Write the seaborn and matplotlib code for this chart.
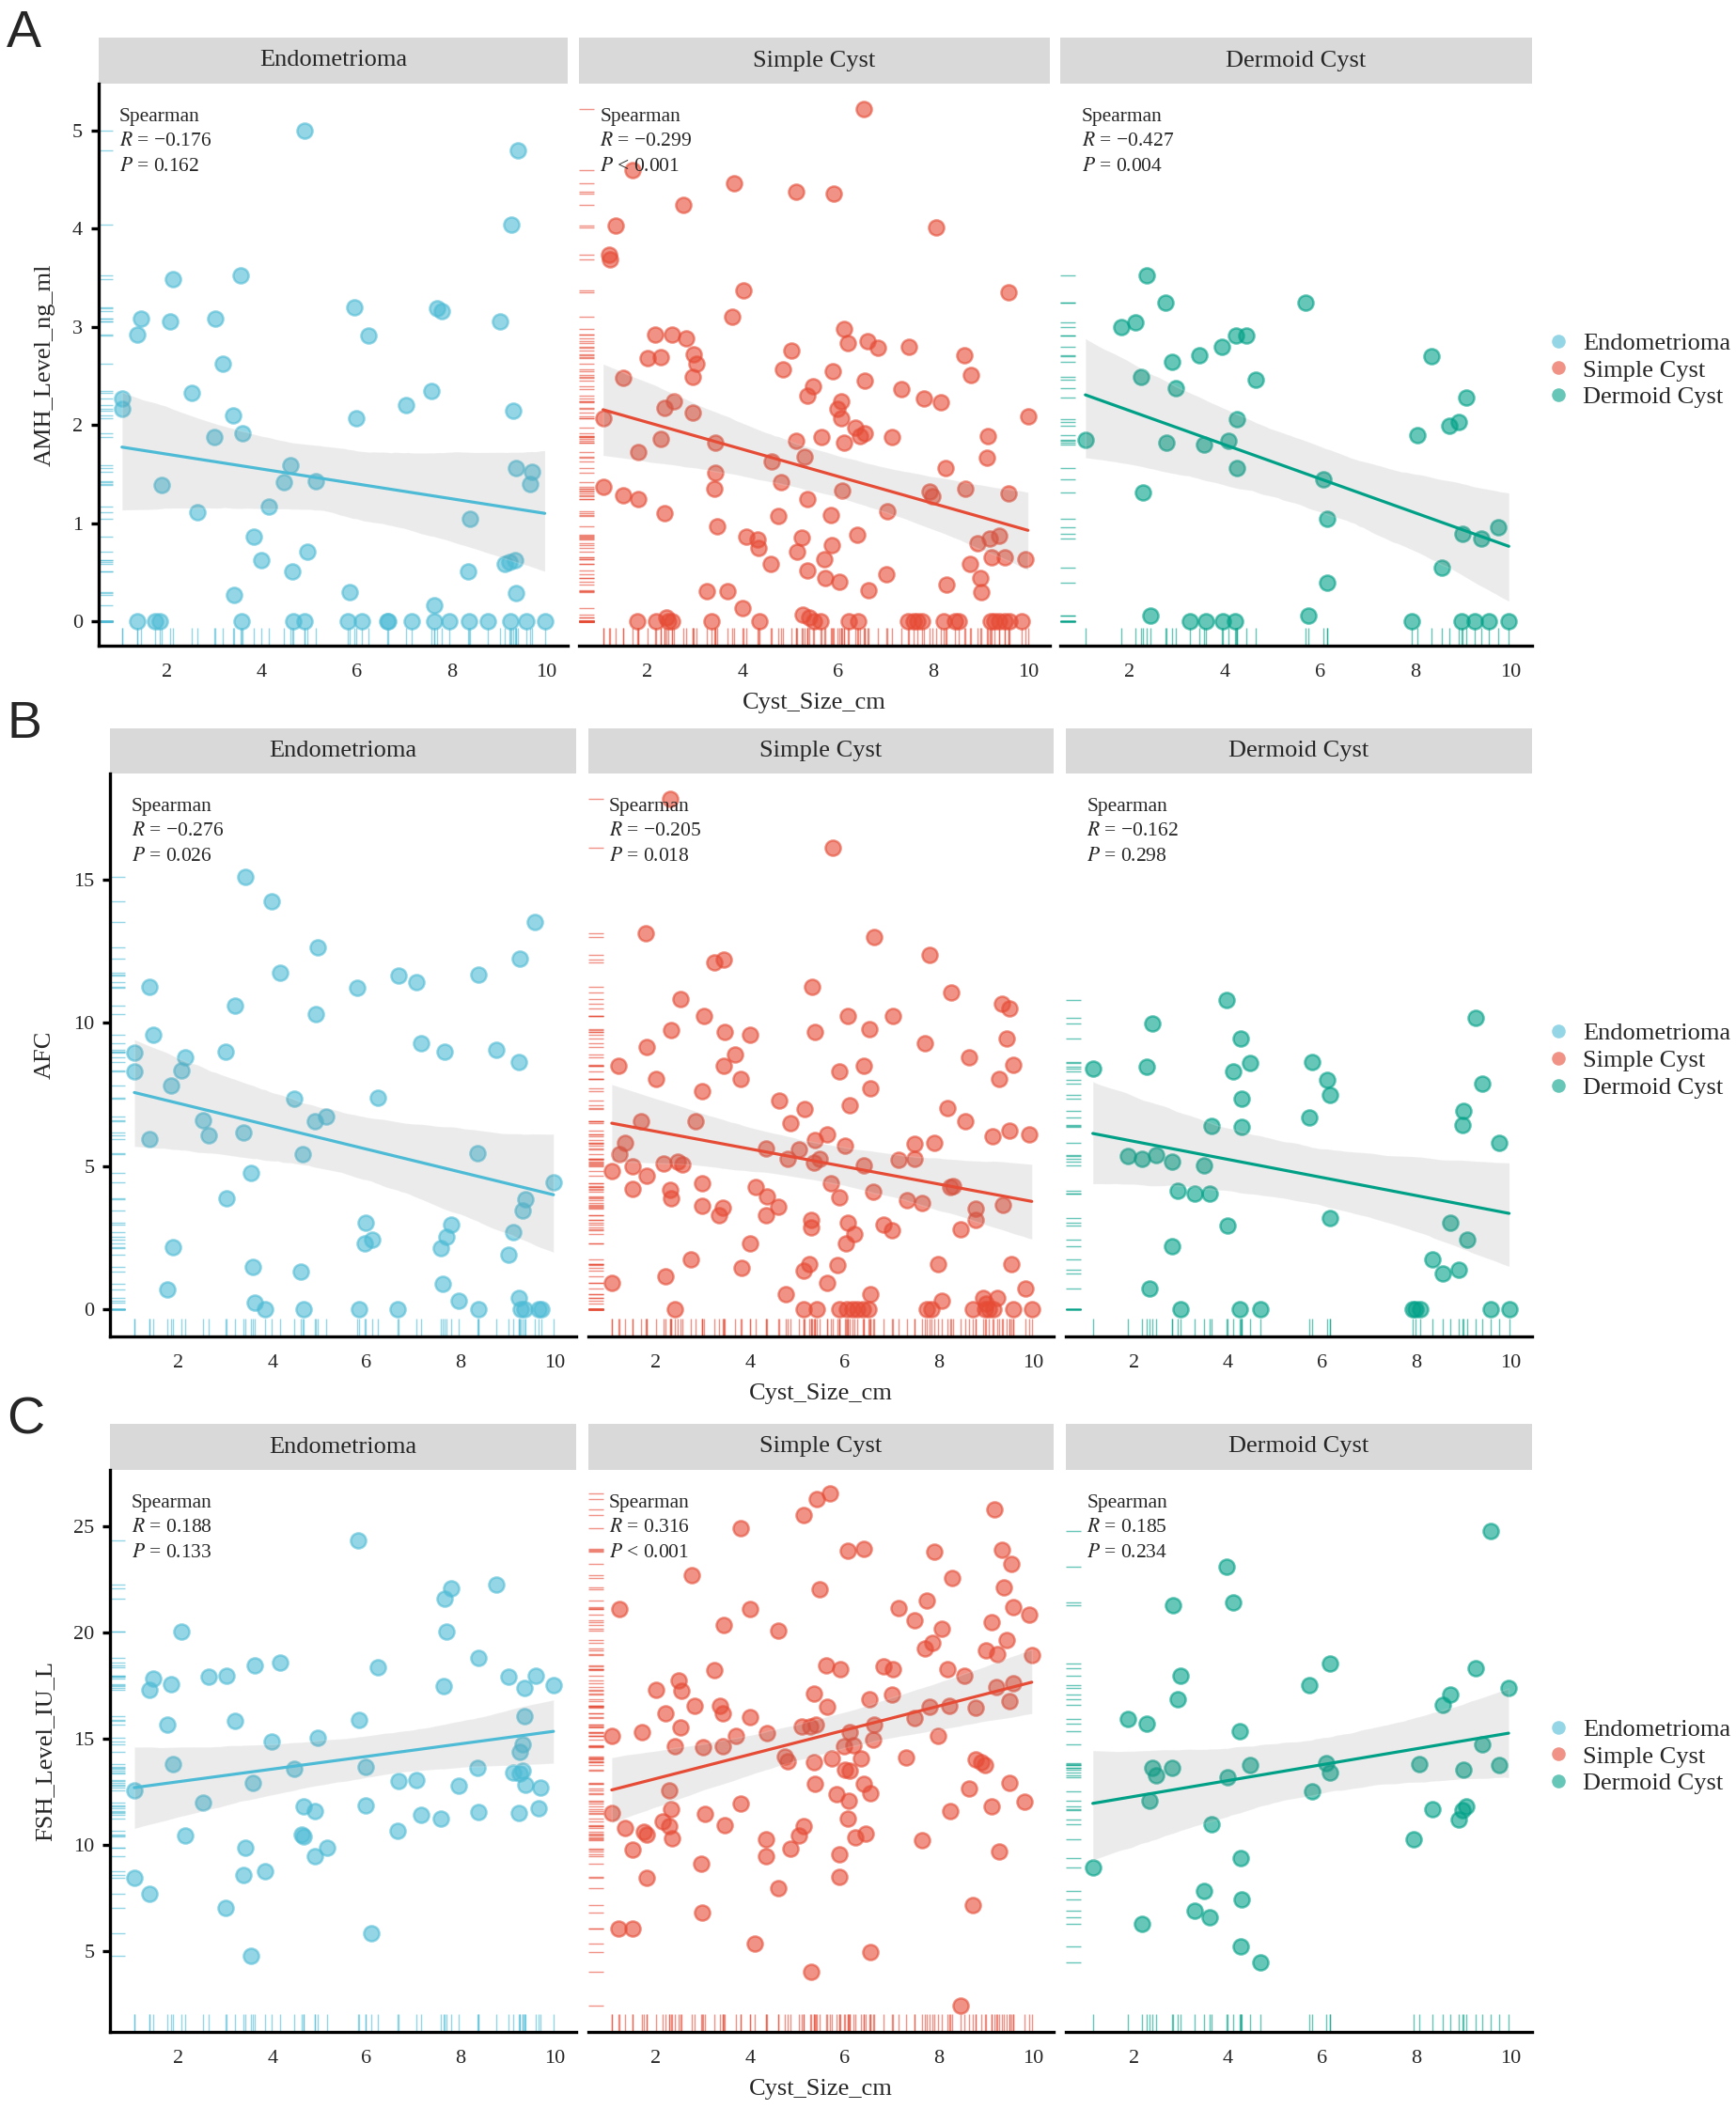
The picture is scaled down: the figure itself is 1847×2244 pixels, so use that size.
import matplotlib
matplotlib.use("Agg")
import matplotlib.pyplot as plt
from matplotlib.lines import Line2D
import pandas as pd
import seaborn as sns

sns.set_style("white")
plt.rcParams["font.family"] = ["Liberation Serif", "DejaVu Serif"]
plt.rcParams["mathtext.fontset"] = "stix"

GROUPS = ["Endometrioma", "Simple Cyst", "Dermoid Cyst"]
COLORS = ["#4DBBD5", "#E64B35", "#00A087"]
MEASURES = ["AMH_Level_ng_ml", "AFC", "FSH_Level_IU_L"]
PANEL_TAGS = ["A", "B", "C"]

# Spearman results printed in each facet (R, P text)
STATS = {
    "AMH_Level_ng_ml": [("\u22120.176", "= 0.162"), ("\u22120.299", "< 0.001"), ("\u22120.427", "= 0.004")],
    "AFC": [("\u22120.276", "= 0.026"), ("\u22120.205", "= 0.018"), ("\u22120.162", "= 0.298")],
    "FSH_Level_IU_L": [("0.188", "= 0.133"), ("0.316", "< 0.001"), ("0.185", "= 0.234")],
}

# ---- AMH ----
AMH_ENDO_X = [4.91, 9.40, 9.26, 2.13, 3.55, 1.47, 1.39, 2.07, 3.02, 5.96,
              6.24, 7.69, 7.80, 9.02, 3.19, 2.52, 1.06, 1.06, 7.58, 7.05,
              3.39, 5.99, 9.29, 3.00, 3.60, 1.89, 4.61, 4.46, 5.14, 9.36,
              9.70, 9.65, 2.64, 4.16, 8.38, 3.83, 4.96, 3.99, 4.64, 8.35,
              9.12, 9.21, 9.33, 3.42, 5.85, 9.36, 7.64,
              1.39, 1.75, 1.86, 3.58, 4.66, 4.91, 5.82, 6.11, 6.65, 6.67,
              7.16, 7.63, 7.96, 8.37, 8.76, 9.24, 9.58, 9.96]
AMH_ENDO_Y = [5.00, 4.80, 4.04, 3.49, 3.53, 3.08, 2.92, 3.06, 3.08, 3.20,
              2.91, 3.19, 3.16, 3.06, 2.62, 2.33, 2.27, 2.16, 2.35, 2.20,
              2.10, 2.07, 2.15, 1.88, 1.92, 1.39, 1.59, 1.42, 1.43, 1.56,
              1.52, 1.40, 1.11, 1.17, 1.04, 0.86, 0.71, 0.62, 0.51, 0.51,
              0.58, 0.60, 0.62, 0.27, 0.30, 0.29, 0.16,
              0, 0, 0, 0, 0, 0, 0, 0, 0, 0,
              0, 0, 0, 0, 0, 0, 0, 0]

AMH_SIMPLE_X = [6.54, 1.69, 3.82, 5.12, 5.92, 2.75, 1.34, 8.06, 1.19, 1.22,
                4.01, 9.59, 3.78, 2.17, 2.52, 2.81, 6.12, 6.20, 6.62, 6.84,
                7.49, 2.00, 2.29, 2.98, 3.04, 2.96, 5.03, 8.66, 4.85, 5.90,
                8.79, 1.49, 6.57, 5.48, 5.36, 7.33, 2.56, 2.35, 7.81, 8.16,
                6.06, 6.00, 6.07, 2.96, 9.99, 1.08, 6.36, 6.47, 6.56, 7.14,
                5.65, 6.13, 5.12, 9.15, 2.29, 3.42, 1.81, 5.29, 4.60, 9.13,
                8.25, 3.42, 4.80, 1.07, 3.41, 6.09, 7.92, 7.98, 8.67, 9.59,
                1.49, 1.80, 5.35, 2.35, 4.75, 5.85, 7.03, 3.46, 4.07, 4.32,
                4.34, 5.25, 6.41, 8.94, 9.19, 9.38, 5.14, 5.88, 4.59, 5.71,
                9.22, 9.50, 9.93, 5.36, 8.78, 7.02, 5.73, 6.03, 6.64, 8.28,
                8.99, 9.01, 3.25, 3.68, 3.99, 5.27, 5.40, 2.39,
                1.78, 2.19, 2.43, 2.51, 3.34, 4.36, 5.49, 5.64, 6.23, 6.42,
                7.47, 7.58, 7.66, 7.76, 8.23, 8.46, 8.54, 9.20, 9.28, 9.38,
                9.51, 9.60, 9.85]
AMH_SIMPLE_Y = [5.22, 4.60, 4.46, 4.38, 4.36, 4.24, 4.03, 4.01, 3.74, 3.69,
                3.37, 3.35, 3.10, 2.92, 2.92, 2.88, 2.98, 2.84, 2.85, 2.79,
                2.80, 2.68, 2.69, 2.72, 2.62, 2.49, 2.76, 2.71, 2.57, 2.55,
                2.51, 2.48, 2.45, 2.39, 2.30, 2.37, 2.24, 2.17, 2.27, 2.23,
                2.24, 2.16, 2.07, 2.13, 2.09, 2.07, 1.97, 1.89, 1.92, 1.88,
                1.88, 1.82, 1.84, 1.89, 1.86, 1.82, 1.72, 1.68, 1.63, 1.67,
                1.56, 1.51, 1.42, 1.37, 1.35, 1.33, 1.32, 1.27, 1.35, 1.30,
                1.28, 1.24, 1.24, 1.10, 1.07, 1.08, 1.12, 0.97, 0.86, 0.83,
                0.75, 0.85, 0.88, 0.79, 0.84, 0.87, 0.71, 0.78, 0.58, 0.63,
                0.65, 0.65, 0.63, 0.52, 0.58, 0.48, 0.44, 0.40, 0.32, 0.37,
                0.44, 0.30, 0.31, 0.31, 0.13, 0.07, 0.04, 0.04,
                0, 0, 0, 0, 0, 0, 0, 0, 0, 0,
                0, 0, 0, 0, 0, 0, 0, 0, 0, 0,
                0, 0, 0]

AMH_DERMOID_X = [2.37, 2.77, 5.70, 1.83, 2.14, 4.24, 4.45, 3.94, 3.48, 8.34,
                 2.90, 2.24, 4.65, 2.97, 9.08, 4.27, 8.91, 8.73, 8.06, 1.08,
                 2.79, 3.58, 4.08, 4.27, 6.08, 2.29, 6.16, 9.75, 9.00, 9.40,
                 8.57, 6.15, 2.44, 5.76,
                 3.27, 3.62, 3.96, 4.23, 7.94, 8.98, 9.26, 9.56, 9.97]
AMH_DERMOID_Y = [3.53, 3.25, 3.25, 3.00, 3.05, 2.91, 2.91, 2.80, 2.71, 2.70,
                 2.64, 2.49, 2.46, 2.38, 2.28, 2.06, 2.03, 1.99, 1.90, 1.85,
                 1.82, 1.80, 1.84, 1.56, 1.45, 1.31, 1.04, 0.96, 0.89, 0.84,
                 0.55, 0.39, 0.06, 0.06,
                 0, 0, 0, 0, 0, 0, 0, 0, 0]

# ---- AFC ----
AFC_ENDO_X = [3.42, 3.99, 9.58, 4.97, 9.26, 4.16, 1.39, 6.67, 7.05, 8.38,
              5.81, 3.20, 4.93, 1.47, 7.16, 1.07, 3.00, 2.14, 7.65, 8.76,
              9.24, 1.07, 2.07, 1.84, 4.46, 6.24, 2.53, 4.91, 5.15, 2.65,
              3.39, 1.39, 4.64, 8.35, 3.55, 9.97, 3.02, 9.38, 9.31, 5.99,
              7.80, 7.70, 9.12, 5.96, 6.12, 7.58, 1.89, 9.02, 3.59, 4.61,
              7.62, 1.76, 7.95, 9.24, 3.62,
              3.84, 4.67, 5.85, 6.65, 8.37, 9.27, 9.36, 9.65, 9.71]
AFC_ENDO_Y = [15.10, 14.24, 13.53, 12.62, 12.25, 11.76, 11.25, 11.64, 11.42, 11.67,
              11.21, 10.59, 10.30, 9.60, 9.30, 8.95, 8.98, 8.80, 8.99, 9.05,
              8.62, 8.32, 8.33, 7.81, 7.36, 7.40, 6.60, 6.58, 6.74, 6.07,
              6.16, 5.94, 5.41, 5.44, 4.75, 4.45, 3.88, 3.86, 3.44, 3.04,
              2.96, 2.55, 2.71, 2.31, 2.44, 2.15, 2.19, 1.91, 1.47, 1.32,
              0.91, 0.70, 0.32, 0.39, 0.23,
              0, 0, 0, 0, 0, 0, 0, 0, 0]

AFC_SIMPLE_X = [2.30, 5.76, 1.78, 6.63, 7.81, 3.24, 3.43, 5.32, 8.26, 9.34,
                9.51, 2.52, 3.02, 6.07, 7.04, 2.33, 3.45, 4.00, 5.37, 6.54,
                9.45, 7.71, 1.81, 3.68, 8.65, 1.21, 3.43, 6.41, 9.59, 2.01,
                3.79, 5.90, 9.29, 6.56, 2.97, 4.62, 5.15, 6.11, 8.18, 1.69,
                2.83, 4.85, 8.56, 5.64, 9.50, 9.92, 9.14, 1.34, 5.37, 6.01,
                7.49, 7.91, 1.22, 4.34, 5.03, 4.80, 5.47, 7.16, 7.49, 1.06,
                1.51, 2.17, 2.46, 2.55, 5.35, 6.42, 1.80, 1.50, 2.30, 2.32,
                2.97, 4.12, 4.36, 5.72, 5.89, 6.61, 8.24, 8.31, 7.34, 7.64,
                9.37, 2.98, 3.41, 3.34, 4.59, 4.33, 8.78, 8.78, 5.29, 5.29,
                6.07, 6.21, 6.83, 7.02, 8.47, 4.00, 6.03, 2.74, 3.81, 5.26,
                5.13, 5.85, 7.99, 9.55, 2.21, 1.06, 5.63, 4.75, 6.56, 9.85,
                8.06, 8.94, 9.24, 9.01,
                2.40, 5.13, 5.42, 5.90, 6.05, 6.17, 6.28, 6.40, 6.52, 7.74,
                7.84, 8.72, 8.98, 9.07, 9.17, 9.58, 9.98]
AFC_SIMPLE_Y = [17.81, 16.10, 13.14, 12.98, 12.36, 12.12, 12.20, 11.27, 11.07, 10.67,
                10.50, 10.83, 10.25, 10.23, 10.23, 9.75, 9.68, 9.59, 9.68, 9.77,
                9.44, 9.28, 9.15, 8.91, 8.79, 8.50, 8.51, 8.50, 8.55, 8.03,
                8.06, 8.31, 8.04, 7.71, 7.62, 7.29, 7.00, 7.11, 7.02, 6.57,
                6.56, 6.50, 6.56, 6.10, 6.23, 6.10, 6.06, 5.80, 5.91, 5.70,
                5.79, 5.81, 5.41, 5.63, 5.59, 5.26, 5.26, 5.23, 5.26, 4.82,
                5.01, 5.10, 5.15, 5.07, 5.12, 5.03, 4.68, 4.20, 4.17, 3.87,
                4.41, 4.28, 3.95, 4.42, 3.90, 4.12, 4.28, 4.31, 3.83, 3.73,
                3.64, 3.61, 3.55, 3.29, 3.57, 3.28, 3.53, 3.13, 3.11, 2.85,
                3.03, 2.62, 2.95, 2.77, 2.80, 2.31, 2.31, 1.76, 1.46, 1.60,
                1.35, 1.54, 1.60, 1.57, 1.16, 0.94, 0.94, 0.55, 0.55, 0.73,
                0.32, 0.41, 0.39, 0.21,
                0, 0, 0, 0, 0, 0, 0, 0, 0, 0,
                0, 0, 0, 0, 0, 0, 0]

AFC_DERMOID_X = [3.97, 9.26, 2.40, 4.28, 1.13, 2.27, 4.11, 4.47, 5.78, 6.10,
                 6.17, 9.41, 4.29, 9.00, 5.72, 3.65, 4.29, 8.98, 9.75, 1.88,
                 2.18, 2.47, 2.82, 3.50, 2.94, 3.29, 3.62, 3.99, 6.17, 8.73,
                 2.81, 9.08, 8.34, 8.90, 8.56, 2.34,
                 3.00, 4.25, 4.68, 7.92, 7.98, 8.09, 9.57, 9.97]
AFC_DERMOID_Y = [10.79, 10.17, 9.99, 9.44, 8.42, 8.46, 8.29, 8.60, 8.64, 8.00,
                 7.49, 7.88, 7.36, 6.93, 6.71, 6.39, 6.38, 6.43, 5.81, 5.36,
                 5.25, 5.40, 5.15, 5.03, 4.15, 4.06, 4.05, 2.93, 3.20, 3.04,
                 2.20, 2.44, 1.76, 1.38, 1.25, 0.73,
                 0, 0, 0, 0, 0, 0, 0, 0]

# ---- FSH ----
FSH_ENDO_X = [5.82, 8.75, 7.80, 7.65, 2.06, 7.70, 8.38, 4.16, 3.62, 6.24,
              1.47, 1.39, 1.84, 2.64, 3.02, 9.02, 9.59, 9.36, 7.63, 9.97,
              9.36, 1.76, 3.20, 5.85, 3.99, 4.96, 9.31, 9.26, 4.46, 5.99,
              8.35, 1.89, 9.12, 9.31, 9.26, 1.07, 3.58, 6.67, 7.05, 7.95,
              9.38, 9.70, 2.53, 4.66, 4.91, 5.99, 7.16, 7.58, 8.37, 9.24,
              9.66, 6.65, 2.14, 4.63, 4.66, 3.43, 5.16, 4.91, 3.84, 3.39,
              1.07, 1.39, 3.00, 6.10, 3.55]
FSH_ENDO_Y = [24.36, 22.27, 22.10, 21.58, 20.03, 20.03, 18.81, 18.59, 18.44, 18.38,
              17.82, 17.32, 17.58, 17.92, 17.97, 17.93, 17.97, 17.39, 17.50, 17.52,
              16.08, 15.65, 15.84, 15.88, 14.87, 15.07, 14.74, 14.38, 13.60, 13.67,
              13.62, 13.79, 13.43, 13.50, 13.37, 12.57, 12.91, 13.02, 13.07, 12.78,
              12.85, 12.72, 11.99, 11.84, 11.62, 11.86, 11.43, 11.26, 11.54, 11.52,
              11.73, 10.68, 10.44, 10.50, 10.42, 9.88, 9.88, 9.49, 8.78, 8.59,
              8.44, 7.69, 7.02, 5.84, 4.79]

FSH_SIMPLE_X = [5.70, 5.42, 5.14, 9.19, 3.80, 6.07, 6.41, 7.91, 9.35, 9.55,
                2.75, 8.29, 9.38, 5.48, 9.59, 1.23, 3.99, 7.15, 7.75, 9.93,
                3.43, 7.49, 9.13, 8.06, 4.59, 9.45, 7.70, 7.86, 9.01, 9.24,
                9.98, 3.24, 5.62, 5.91, 6.83, 7.03, 8.18, 8.55, 2.48, 2.01,
                2.54, 5.36, 7.02, 9.22, 9.59, 2.81, 3.36, 5.64, 6.54, 7.81,
                8.23, 8.79, 9.50, 2.21, 3.42, 4.00, 2.52, 7.49, 5.09, 5.27,
                5.39, 6.63, 1.06, 1.70, 4.35, 3.69, 6.12, 2.40, 2.99, 3.41,
                6.00, 6.20, 6.61, 7.99, 4.74, 4.80, 5.35, 5.74, 6.35, 7.32,
                8.78, 8.90, 8.99, 6.01, 6.12, 2.29, 5.37, 6.41, 6.55, 8.64,
                9.50, 5.84, 6.10, 3.79, 9.83, 9.13, 1.07, 2.33, 3.03, 8.25,
                6.07, 2.15, 2.28, 1.35, 3.45, 5.13, 1.74, 1.80, 2.34, 5.03,
                4.33, 6.23, 6.46, 7.64, 1.50, 4.85, 9.29, 4.33, 5.89, 2.96,
                5.89, 1.80, 4.59, 2.97, 8.73, 1.21, 1.51, 4.10, 6.56, 5.29,
                8.47]
FSH_SIMPLE_Y = [26.55, 26.29, 25.52, 25.79, 24.93, 23.84, 23.95, 23.79, 23.92, 23.24,
                22.72, 22.59, 22.14, 22.03, 21.22, 21.09, 21.13, 21.17, 21.50, 20.83,
                20.38, 20.57, 20.48, 20.18, 20.08, 19.65, 19.26, 19.50, 19.15, 18.98,
                18.94, 18.25, 18.46, 18.27, 18.40, 18.29, 18.27, 17.99, 17.75, 17.32,
                17.24, 17.13, 17.07, 17.43, 17.60, 16.55, 16.57, 16.53, 16.85, 16.51,
                16.57, 16.46, 16.76, 16.18, 16.18, 16.03, 15.52, 15.97, 15.60, 15.58,
                15.67, 15.67, 15.13, 15.32, 15.26, 15.13, 15.32, 14.63, 14.61, 14.66,
                14.63, 14.68, 14.96, 15.15, 14.16, 13.93, 13.92, 14.07, 14.08, 14.14,
                14.03, 13.92, 13.75, 13.54, 13.50, 12.57, 12.89, 12.89, 12.46, 12.64,
                12.94, 12.40, 12.08, 11.95, 12.03, 11.80, 11.52, 11.67, 11.45, 11.62,
                11.24, 11.11, 10.91, 10.78, 10.94, 10.89, 10.64, 10.50, 10.33, 10.44,
                10.29, 10.35, 10.55, 10.23, 9.80, 9.84, 9.71, 9.47, 9.56, 9.13,
                8.51, 8.46, 7.99, 6.81, 7.19, 6.05, 6.08, 5.34, 4.98, 4.05,
                2.42]

FSH_DERMOID_X = [9.57, 3.97, 2.83, 4.11, 6.17, 9.26, 2.99, 5.72, 9.96, 2.94,
                 8.73, 8.56, 1.88, 2.27, 4.25, 9.41, 2.40, 2.48, 2.81, 4.47,
                 6.09, 6.17, 8.07, 9.01, 9.75, 3.99, 5.78, 2.33, 8.34, 8.98,
                 9.07, 8.90, 3.65, 7.95, 4.28, 1.13, 3.50, 4.29, 3.29, 3.62,
                 2.18, 4.28, 4.68]
FSH_DERMOID_Y = [24.78, 23.09, 21.30, 21.41, 18.53, 18.33, 17.95, 17.54, 17.39, 16.87,
                 17.09, 16.59, 15.95, 15.71, 15.34, 14.72, 13.65, 13.26, 13.64, 13.77,
                 13.86, 13.41, 13.82, 13.56, 13.75, 13.17, 12.53, 12.07, 11.69, 11.64,
                 11.82, 11.21, 10.98, 10.25, 9.39, 8.96, 7.82, 7.43, 6.91, 6.59,
                 6.27, 5.21, 4.46]

PANEL_DATA = {
    "AMH_Level_ng_ml": [(AMH_ENDO_X, AMH_ENDO_Y), (AMH_SIMPLE_X, AMH_SIMPLE_Y), (AMH_DERMOID_X, AMH_DERMOID_Y)],
    "AFC": [(AFC_ENDO_X, AFC_ENDO_Y), (AFC_SIMPLE_X, AFC_SIMPLE_Y), (AFC_DERMOID_X, AFC_DERMOID_Y)],
    "FSH_Level_IU_L": [(FSH_ENDO_X, FSH_ENDO_Y), (FSH_SIMPLE_X, FSH_SIMPLE_Y), (FSH_DERMOID_X, FSH_DERMOID_Y)],
}

Y_LIMITS = {"AMH_Level_ng_ml": (-0.25, 5.48), "AFC": (-0.94, 18.7), "FSH_Level_IU_L": (1.2, 27.66)}
Y_TICKS = {"AMH_Level_ng_ml": [0, 1, 2, 3, 4, 5], "AFC": [0, 5, 10, 15], "FSH_Level_IU_L": [5, 10, 15, 20, 25]}
X_TICKS = [2, 4, 6, 8, 10]

# layout in pixels of the 1847x2244 canvas
W, H = 1847, 2244
ROWS = [
    dict(strip_top=40, top=89, bottom=687, lefts=[104.5, 615.8, 1128.4], rights=[604.3, 1117.0, 1629.6], tag_y=50),
    dict(strip_top=775, top=823, bottom=1422, lefts=[117.4, 625.8, 1134.1], rights=[612.9, 1121.3, 1629.6], tag_y=785),
    dict(strip_top=1515, top=1564, bottom=2162, lefts=[117.4, 625.8, 1134.1], rights=[612.9, 1121.3, 1629.6], tag_y=1526),
]

fig = plt.figure(figsize=(W / 100, H / 100), dpi=100)

for r, measure in enumerate(MEASURES):
    geo = ROWS[r]
    fig.text(7 / W, 1 - geo["tag_y"] / H, PANEL_TAGS[r], fontsize=40,
             family="Liberation Sans", ha="left", va="baseline")
    for c, group in enumerate(GROUPS):
        color = COLORS[c]
        xs, ys = PANEL_DATA[measure][c]
        df = pd.DataFrame({"Cyst_Size_cm": xs, measure: ys})
        l, rr = geo["lefts"][c], geo["rights"][c]

        # facet strip
        sax = fig.add_axes([l / W, 1 - geo["top"] / H, (rr - l) / W, (geo["top"] - geo["strip_top"]) / H])
        sax.set_facecolor("#D9D9D9")
        sax.set_xticks([])
        sax.set_yticks([])
        for sp in sax.spines.values():
            sp.set_visible(False)
        sax.text(0.5, 0.5, group, ha="center", va="center", fontsize=19, transform=sax.transAxes)

        ax = fig.add_axes([l / W, 1 - geo["bottom"] / H, (rr - l) / W, (geo["bottom"] - geo["top"]) / H])
        ax.set_facecolor("white")

        sns.scatterplot(data=df, x="Cyst_Size_cm", y=measure, ax=ax, color=color, s=135,
                        alpha=0.6, edgecolor=color, linewidth=1.8, legend=False)
        sns.rugplot(data=df, x="Cyst_Size_cm", ax=ax, height=0.032, color=color,
                    alpha=0.6, lw=2.2, expand_margins=False)
        sns.rugplot(data=df, y=measure, ax=ax, height=0.032, color=color,
                    alpha=0.6, lw=2.2, expand_margins=False)
        # confidence band (grey) then fitted line in group colour
        sns.regplot(data=df, x="Cyst_Size_cm", y=measure, ax=ax, scatter=False,
                    color="#7a7a7a", line_kws={"alpha": 0}, seed=7)
        sns.regplot(data=df, x="Cyst_Size_cm", y=measure, ax=ax, scatter=False,
                    ci=None, color=color, line_kws={"lw": 2.3})

        ax.set_xlim(0.56, 10.45)
        ax.set_ylim(*Y_LIMITS[measure])
        ax.set_xticks(X_TICKS)
        ax.set_yticks(Y_TICKS[measure])
        for side in ["top", "right"]:
            ax.spines[side].set_visible(False)
        ax.spines["bottom"].set_linewidth(2.4)
        ax.spines["bottom"].set_color("black")
        ax.tick_params(axis="x", length=6, width=2.4, labelsize=16, pad=8, color="black")
        if c == 0:
            ax.spines["left"].set_linewidth(2.4)
            ax.spines["left"].set_color("black")
            ax.tick_params(axis="y", length=6, width=2.4, labelsize=16, pad=6, color="black", left=True)
            ax.set_ylabel(measure, fontsize=19)
            ax.yaxis.set_label_coords(-0.091 if r == 0 else -0.118, 0.5)
        else:
            ax.spines["left"].set_visible(False)
            ax.set_yticks([])
            ax.set_ylabel("")
        if c == 1:
            ax.set_xlabel("Cyst_Size_cm", fontsize=19)
            ax.xaxis.set_label_coords(0.5, -0.083)
        else:
            ax.set_xlabel("")

        r_txt, p_txt = STATS[measure][c]
        ax.text(0.045, 0.940, "Spearman", transform=ax.transAxes, fontsize=15.5, va="center")
        ax.text(0.045, 0.897, r"$\mathit{R}$ = " + r_txt, transform=ax.transAxes, fontsize=15.5, va="center")
        ax.text(0.045, 0.852, r"$\mathit{P}$ " + p_txt, transform=ax.transAxes, fontsize=15.5, va="center")

        if c == 2:
            handles = [Line2D([], [], marker="o", ls="", color=col, alpha=0.6,
                              markersize=10.5, markeredgewidth=0) for col in COLORS]
            ax.legend(handles, GROUPS, loc="center left", bbox_to_anchor=(1.03, 0.49),
                      frameon=False, fontsize=19, handlelength=1.0, handletextpad=0.5,
                      borderpad=0, borderaxespad=0, labelspacing=0.2)

fig.savefig("out.png", dpi=100)
